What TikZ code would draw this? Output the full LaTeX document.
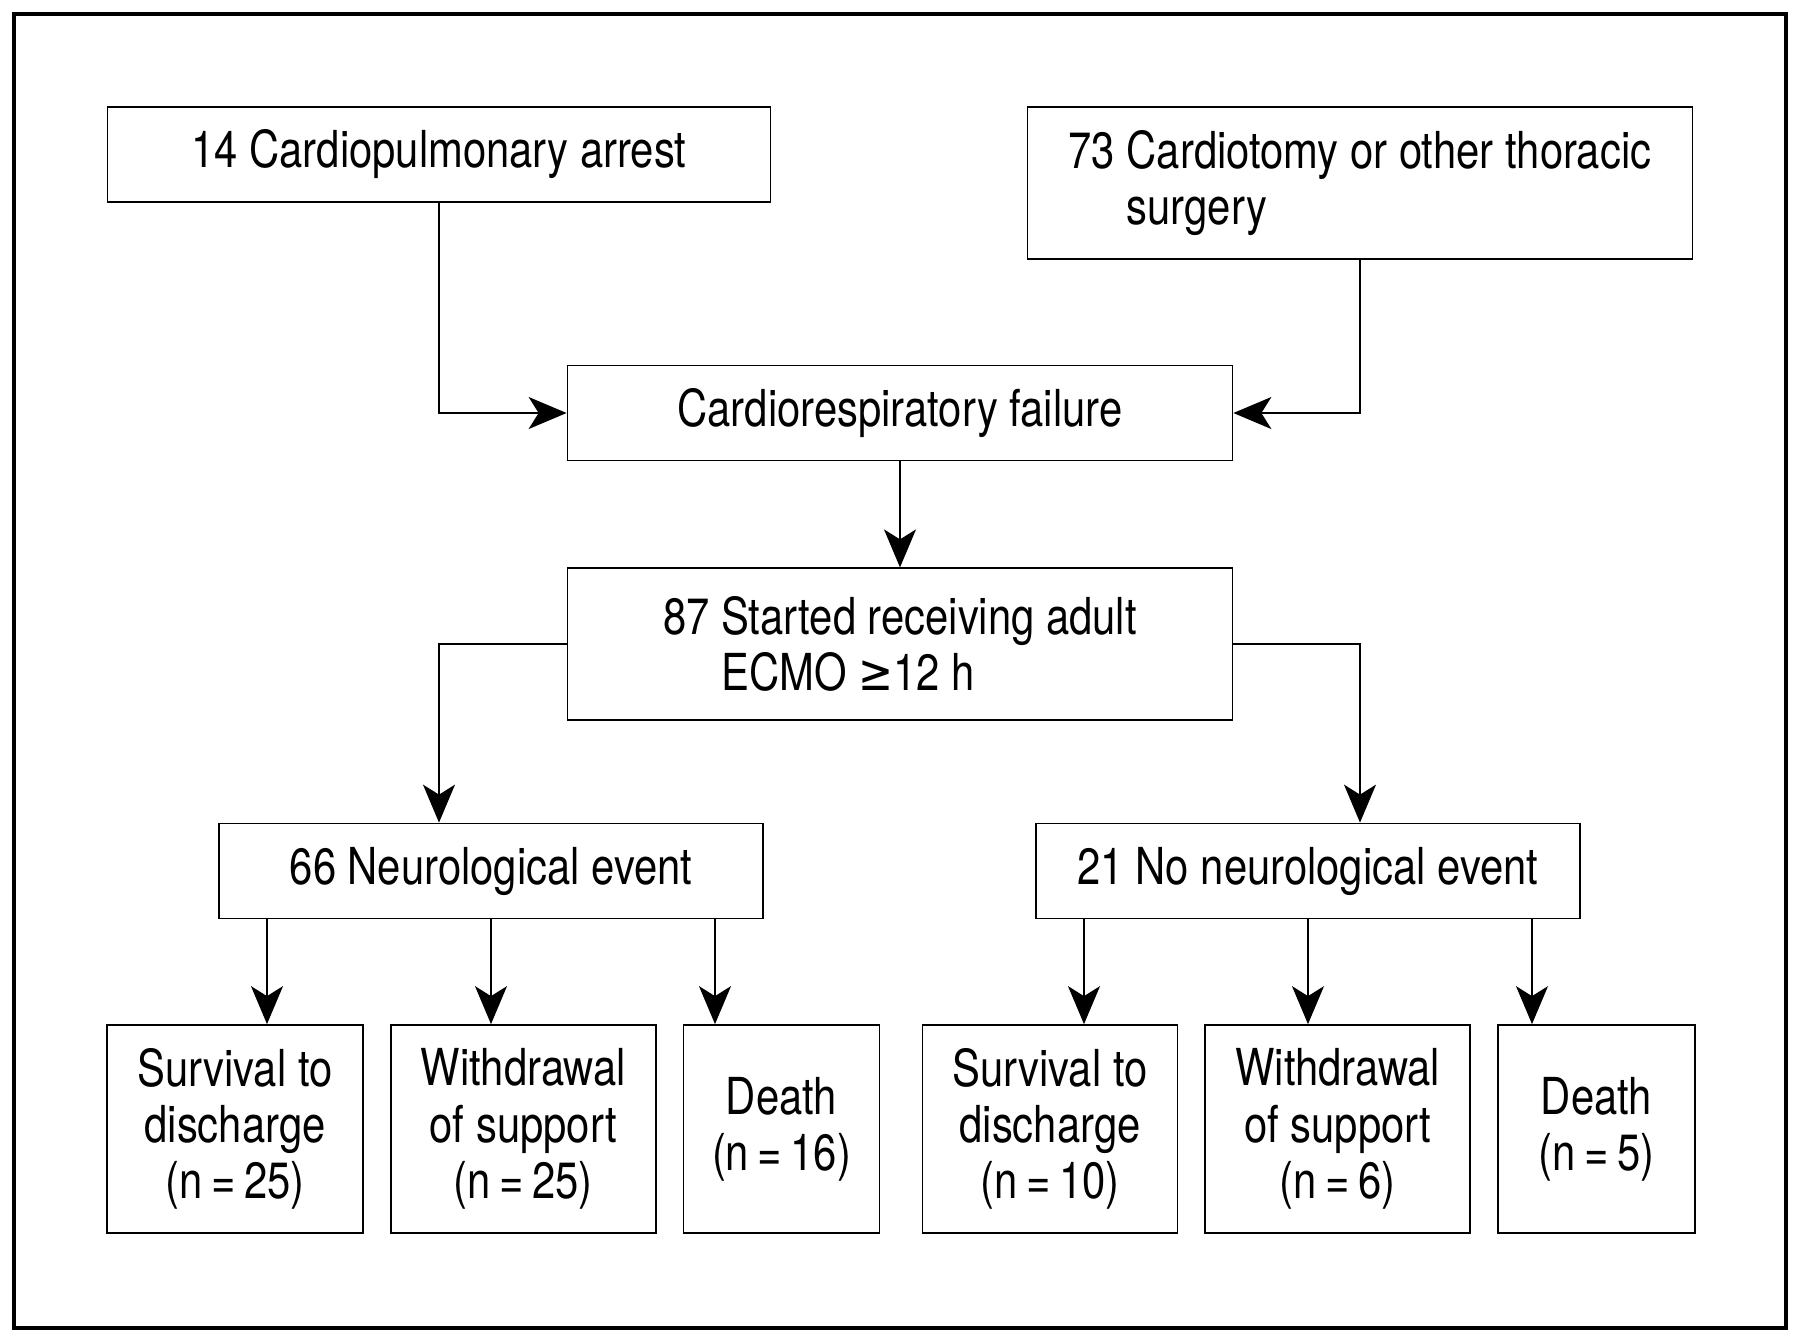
\documentclass[tikz,border=0pt]{standalone}
\usepackage{fontspec}
\setmainfont{TeX Gyre Heros}[FakeStretch=0.82]
\newfontfamily\geqfont{DejaVu Sans}[FakeStretch=0.82]
\usetikzlibrary{arrows.meta, positioning}

\tikzset{
  box/.style={draw, line width=0.5pt, minimum height=0.95cm, inner sep=2pt,
    font=\fontsize{14.5}{16}\selectfont},
  tallbox/.style={box, minimum height=1.52cm, align=left},
  outbox/.style={box, minimum height=2.08cm, align=center},
  arr/.style={line width=0.45pt, -{Stealth[length=3.8mm, width=3.2mm, inset=1mm]}},
}

\begin{document}
\begin{tikzpicture}[node distance=0.26cm]
  \useasboundingbox (0,0) rectangle (18,-13.41);
  \draw[line width=0.9pt] (0.14,-0.14) rectangle (17.86,-13.28);

  \node[box, minimum width=6.63cm] (arrest) at (4.39,-1.545) {14 Cardiopulmonary arrest};
  \node[tallbox, minimum width=6.65cm] (surgery) at (13.60,-1.83) {73 Cardiotomy or other thoracic\\\phantom{73 }surgery};
  \node[box, minimum width=6.65cm] (failure) at (9.0,-4.13) {Cardiorespiratory failure};
  \node[tallbox, minimum width=6.65cm] (ecmo) [below=1.06cm of failure] {87 Started receiving adult\\\phantom{87 }ECMO {\geqfont ≥}12 h};
  \node[box, minimum width=5.44cm] (neuro) at (4.91,-8.71) {66 Neurological event};
  \node[box, minimum width=5.44cm] (noneuro) at (13.08,-8.71) {21 No neurological event};

  % outcomes
  \node[outbox, minimum width=2.56cm] (surv1) at (2.35,-11.29) {Survival to\\discharge\\(n\,=\,25)};
  \node[outbox, minimum width=2.65cm] (wd1) [right=of surv1] {Withdrawal\\of support\\(n\,=\,25)};
  \node[outbox, minimum width=1.96cm] (death1) [right=of wd1] {Death\\(n\,=\,16)};
  \node[outbox, minimum width=2.55cm] (surv2) at (10.50,-11.29) {Survival to\\discharge\\(n\,=\,10)};
  \node[outbox, minimum width=2.65cm] (wd2) [right=of surv2] {Withdrawal\\of support\\(n\,=\,6)};
  \node[outbox, minimum width=1.97cm] (death2) [right=of wd2] {Death\\(n\,=\,5)};

  \draw[arr] (arrest.south) |- (failure.west);
  \draw[arr] (surgery.south) |- (failure.east);
  \draw[arr] (failure) -- (ecmo);
  \draw[arr] (ecmo.west) -| (neuro.north -| arrest.south);
  \draw[arr] (ecmo.east) -| (noneuro.north -| surgery.south);

  \foreach \src/\dst/\dx in {neuro/surv1/-2.24, neuro/wd1/0, neuro/death1/2.24,
      noneuro/surv2/-2.24, noneuro/wd2/0, noneuro/death2/2.24} {
    \coordinate (tmp) at ([xshift=\dx cm]\src.south);
    \draw[arr] (tmp) -- (tmp |- \dst.north);
  }
\end{tikzpicture}
\end{document}
